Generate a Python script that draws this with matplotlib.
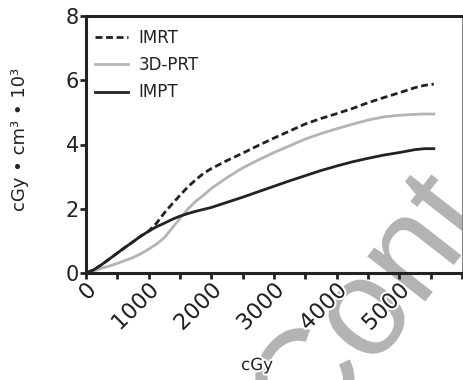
import matplotlib
matplotlib.use("Agg")
import matplotlib.pyplot as plt
import matplotlib.patheffects as pe
from matplotlib.ticker import MultipleLocator

plt.rcParams['font.family'] = ['DejaVu Sans']

dose = [0, 125, 250, 375, 500, 625, 750, 875, 1000, 1125, 1250, 1375, 1500,
        1625, 1750, 1875, 2000, 2250, 2500, 2750, 3000, 3250, 3500, 3750,
        4000, 4250, 4500, 4750, 5000, 5250, 5400, 5550]
imrt = [0, 0.1, 0.26, 0.44, 0.62, 0.8, 0.97, 1.15, 1.3, 1.55, 1.87, 2.15, 2.42,
        2.68, 2.9, 3.1, 3.25, 3.5, 3.73, 3.97, 4.2, 4.42, 4.64, 4.81,
        4.96, 5.12, 5.3, 5.46, 5.61, 5.77, 5.84, 5.88]
prt3d = [0, 0.06, 0.15, 0.22, 0.3, 0.39, 0.48, 0.6, 0.74, 0.9, 1.1, 1.4, 1.7,
         1.99, 2.23, 2.42, 2.63, 2.97, 3.27, 3.52, 3.75, 3.96, 4.17, 4.34,
         4.49, 4.63, 4.76, 4.86, 4.91, 4.94, 4.95, 4.95]
impt = [0, 0.1, 0.26, 0.44, 0.62, 0.8, 0.97, 1.15, 1.3, 1.44, 1.55, 1.67, 1.77,
        1.85, 1.92, 1.98, 2.04, 2.2, 2.36, 2.53, 2.7, 2.87, 3.03, 3.19,
        3.33, 3.46, 3.57, 3.67, 3.75, 3.84, 3.87, 3.87]
labels = ['IMRT', '3D-PRT', 'IMPT']
xticks = [0, 1000, 2000, 3000, 4000, 5000]
yticks = [0, 2, 4, 6, 8]

W, H = 463, 380
fig = plt.figure(figsize=(W / 100, H / 100), dpi=100)
L, R, T, B = 86, 462, 16, 273
ax = fig.add_axes([L / W, 1 - B / H, (R - L) / W, (B - T) / H])
ax.patch.set_facecolor('none')

dark = '#222222'
ax.plot(dose, imrt, color=dark, lw=2.0, linestyle=(0, (2.5, 1.3)), label=labels[0])
ax.plot(dose, prt3d, color='#b4b4b4', lw=2.0, label=labels[1])
ax.plot(dose, impt, color=dark, lw=2.0, label=labels[2])

ax.set_xlim(0, 6000)
ax.set_ylim(0, 8)
ax.set_xticks(xticks)
ax.set_xticklabels([str(v) for v in xticks], rotation=45, ha='right', va='top',
                   rotation_mode='anchor', fontsize=16, color=dark)
ax.xaxis.set_minor_locator(MultipleLocator(500))
ax.set_yticks(yticks)
ax.set_yticklabels([str(v) for v in yticks], fontsize=15, color=dark)

for s in ['left', 'bottom', 'top']:
    ax.spines[s].set_linewidth(2.2)
    ax.spines[s].set_color(dark)
ax.spines['right'].set_linewidth(0.8)
ax.spines['right'].set_color('#888888')
ax.tick_params(axis='both', which='both', direction='out', length=4, width=2,
               color=dark, pad=1)
ax.tick_params(axis='y', which='minor', length=0)
for t in ax.get_xticklabels():
    t.set_path_effects([pe.withStroke(linewidth=3, foreground='white')])

leg = ax.legend(loc='upper left', bbox_to_anchor=(95 / W, 1 - 29 / H),
                bbox_transform=fig.transFigure, frameon=False, fontsize=12,
                handlelength=2.0, handletextpad=0.6, labelspacing=0.55,
                borderpad=0, borderaxespad=0)
for txt in leg.get_texts():
    txt.set_color(dark)

fig.text(20 / W, 1 - 139 / H, 'cGy • cm³ • 10³', rotation=90, ha='center',
         va='center', fontsize=13, color=dark)
fig.text(257 / W, 1 - 365 / H, 'cGy', ha='center', va='center', fontsize=12,
         color=dark, path_effects=[pe.withStroke(linewidth=3, foreground='white')],
         zorder=5)

fig.text(310 / W, -69 / H, 'Cont', rotation=52, ha='left', va='baseline',
         rotation_mode='anchor', fontsize=100, color='#b3b3b3', zorder=-1,
         family='Liberation Sans',
         path_effects=[pe.withStroke(linewidth=3, foreground='white')])

fig.savefig('out.png', dpi=100)
